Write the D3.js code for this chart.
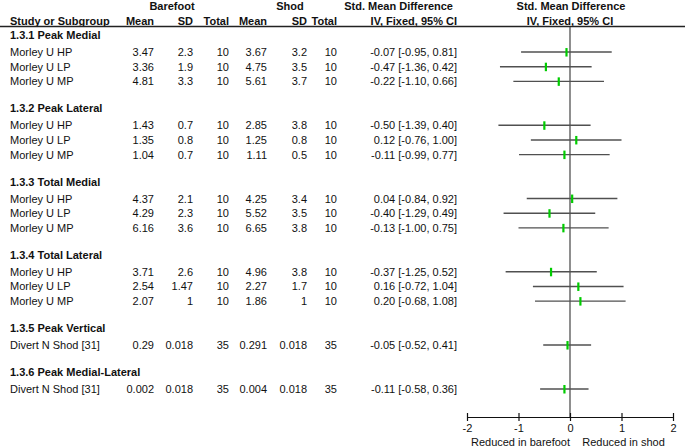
<!DOCTYPE html>
<html>
<head>
<meta charset="utf-8">
<script src="https://cdn.jsdelivr.net/npm/d3@7"></script>
<style>
  html, body { margin: 0; padding: 0; background: #fff; }
  svg { display: block; font-family: "Liberation Sans", Arial, sans-serif; }
</style>
</head>
<body>
<svg id="chart" width="685" height="448"></svg>
<script>
// ---- data ----
const groupNames = ["1.3.1 Peak Medial", "1.3.2 Peak Lateral", "1.3.3 Total Medial", "1.3.4 Total Lateral", "1.3.5 Peak Vertical", "1.3.6 Peak Medial-Lateral"];
const groupSizes = [3, 3, 3, 3, 1, 1];
const studyNames = [
  "Morley U HP", "Morley U LP", "Morley U MP",
  "Morley U HP", "Morley U LP", "Morley U MP",
  "Morley U HP", "Morley U LP", "Morley U MP",
  "Morley U HP", "Morley U LP", "Morley U MP",
  "Divert N Shod [31]",
  "Divert N Shod [31]"
];
const barefootMean = [3.47, 3.36, 4.81, 1.43, 1.35, 1.04, 4.37, 4.29, 6.16, 3.71, 2.54, 2.07, 0.29, 0.002];
const barefootSD   = [2.3, 1.9, 3.3, 0.7, 0.8, 0.7, 2.1, 2.3, 3.6, 2.6, 1.47, 1, 0.018, 0.018];
const barefootN    = [10, 10, 10, 10, 10, 10, 10, 10, 10, 10, 10, 10, 35, 35];
const shodMean     = [3.67, 4.75, 5.61, 2.85, 1.25, 1.11, 4.25, 5.52, 6.65, 4.96, 2.27, 1.86, 0.291, 0.004];
const shodSD       = [3.2, 3.5, 3.7, 3.8, 0.8, 0.5, 3.4, 3.5, 3.8, 3.8, 1.7, 1, 0.018, 0.018];
const shodN        = [10, 10, 10, 10, 10, 10, 10, 10, 10, 10, 10, 10, 35, 35];
const smd          = [-0.07, -0.47, -0.22, -0.50, 0.12, -0.11, 0.04, -0.40, -0.13, -0.37, 0.16, 0.20, -0.05, -0.11];
const ciLow        = [-0.95, -1.36, -1.10, -1.39, -0.76, -0.99, -0.84, -1.29, -1.00, -1.25, -0.72, -0.68, -0.52, -0.58];
const ciHigh       = [0.81, 0.42, 0.66, 0.40, 1.00, 0.77, 0.92, 0.49, 0.75, 0.52, 1.04, 1.08, 0.41, 0.36];
const axisTicks    = [-2, -1, 0, 1, 2];
const axisLabels   = ["Reduced in barefoot", "Reduced in shod"];
const axisLabelPos = [-1, 1];

// ---- layout ----
const svg = d3.select("#chart");
const FS = 11;
const textColor = "#111";

// build row list: group header, studies, blank
const rows = [];
let ri = 0, si = 0;
groupNames.forEach((g, gi) => {
  rows.push({ type: "group", name: g, idx: ri++ });
  for (let k = 0; k < groupSizes[gi]; k++) {
    rows.push({ type: "study", s: si++, idx: ri++ });
  }
  ri++; // blank row
});

const yRow = d3.scaleLinear().domain([0, 24]).range([35, 386.6]);
const studyOffset = 2.4;
const x = d3.scaleLinear().domain([-2, 2]).range([467, 673]);

// header
const hdr = svg.append("g").attr("fill", textColor).attr("font-size", FS).attr("font-weight", "bold");
hdr.append("text").attr("x", 172).attr("y", 10).attr("text-anchor", "middle").text("Barefoot");
hdr.append("text").attr("x", 290).attr("y", 10).attr("text-anchor", "middle").text("Shod");
hdr.append("text").attr("x", 453).attr("y", 10).attr("text-anchor", "end").text("Std. Mean Difference");
hdr.append("text").attr("x", 571).attr("y", 10).attr("text-anchor", "middle").text("Std. Mean Difference");
hdr.append("text").attr("x", 10).attr("y", 24.5).text("Study or Subgroup");
const colRight = [154, 193, 229, 267, 307, 337];
const colHdr = ["Mean", "SD", "Total", "Mean", "SD", "Total"];
colHdr.forEach((h, i) => hdr.append("text").attr("x", colRight[i]).attr("y", 24.5).attr("text-anchor", "end").text(h));
hdr.append("text").attr("x", 457).attr("y", 24.5).attr("text-anchor", "end").text("IV, Fixed, 95% CI");
hdr.append("text").attr("x", 570).attr("y", 24.5).attr("text-anchor", "middle").text("IV, Fixed, 95% CI");

svg.append("line").attr("x1", 0).attr("x2", 685).attr("y1", 26.5).attr("y2", 26.5)
  .attr("stroke", "#222").attr("stroke-width", 1.5);

// zero line
svg.append("line").attr("x1", x(0)).attr("x2", x(0)).attr("y1", 27).attr("y2", 417)
  .attr("stroke", "#444").attr("stroke-width", 1.2);

// group headers
svg.append("g").selectAll("text").data(rows.filter(r => r.type === "group")).join("text")
  .attr("x", 10).attr("y", r => yRow(r.idx) + 4)
  .attr("font-size", FS).attr("font-weight", "bold").attr("fill", textColor)
  .text(r => r.name);

// study rows
const loc = d3.formatLocale({ decimal: ".", thousands: ",", grouping: [3], currency: ["", ""], minus: "-" });
const fmt2 = loc.format(".2f");
const studyRows = rows.filter(r => r.type === "study");
const sg = svg.append("g").attr("font-size", FS).attr("fill", textColor);
studyRows.forEach(r => {
  const s = r.s;
  const yc = yRow(r.idx) + studyOffset;
  const yb = yc + 4;
  sg.append("text").attr("x", 10).attr("y", yb).text(studyNames[s]);
  const vals = [barefootMean[s], barefootSD[s], barefootN[s], shodMean[s], shodSD[s], shodN[s]];
  vals.forEach((v, i) => sg.append("text").attr("x", colRight[i]).attr("y", yb).attr("text-anchor", "end").text(String(v)));
  sg.append("text").attr("x", 457).attr("y", yb).attr("text-anchor", "end")
    .text(`${fmt2(smd[s])} [${fmt2(ciLow[s])}, ${fmt2(ciHigh[s])}]`);
});

// CI lines and markers
const plot = svg.append("g");
plot.selectAll("line.ci").data(studyRows).join("line").attr("class", "ci")
  .attr("x1", r => x(ciLow[r.s])).attr("x2", r => x(ciHigh[r.s]))
  .attr("y1", r => yRow(r.idx) + studyOffset).attr("y2", r => yRow(r.idx) + studyOffset)
  .attr("stroke", "#505050").attr("stroke-width", 1.4);
plot.selectAll("rect.pt").data(studyRows).join("rect").attr("class", "pt")
  .attr("x", r => x(smd[r.s]) - 1).attr("width", 2.2)
  .attr("y", r => yRow(r.idx) + studyOffset - 4).attr("height", 8.5)
  .attr("fill", "#00cc00");

// axis
const axisY = 417;
const ax = svg.append("g").attr("transform", `translate(0,${axisY})`)
  .call(d3.axisBottom(x).tickValues(axisTicks).tickFormat(d => String(d)).tickSizeInner(4).tickSizeOuter(0).tickPadding(3));
ax.select(".domain").attr("stroke", "#111").attr("stroke-width", 1.2);
ax.selectAll(".tick line").attr("y1", -4).attr("y2", 4).attr("stroke", "#111").attr("stroke-width", 1.2);
ax.selectAll(".tick text").attr("font-size", FS).attr("fill", textColor)
  .attr("font-family", "'Liberation Sans', Arial, sans-serif");

svg.append("g").selectAll("text").data(axisLabels).join("text")
  .attr("x", (d, i) => x(axisLabelPos[i]) + 2).attr("y", 446)
  .attr("text-anchor", "middle").attr("font-size", FS).attr("fill", textColor)
  .text(d => d);
</script>
</body>
</html>
